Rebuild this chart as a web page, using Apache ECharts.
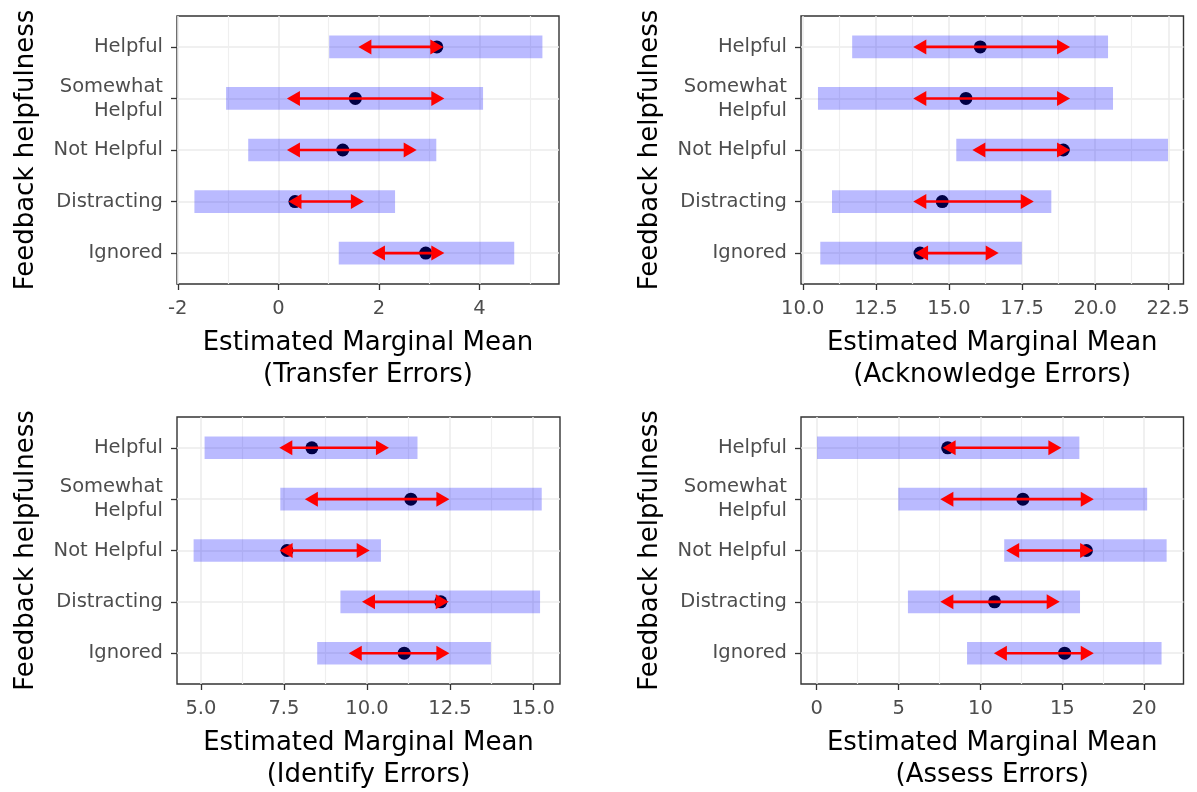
<!DOCTYPE html>
<html>
<head>
<meta charset="utf-8">
<script src="https://cdn.jsdelivr.net/npm/echarts@6/dist/echarts.min.js"></script>
<style>
  html, body { margin: 0; padding: 0; background: #ffffff; }
  #chart { width: 1197px; height: 792px; }
</style>
</head>
<body>
<div id="chart"></div>
<script>
// Feedback categories, top to bottom
const categories = ['Helpful', 'Somewhat\nHelpful', 'Not Helpful', 'Distracting', 'Ignored'];

// Transfer errors
const transferMean = [3.15, 1.53, 1.28, 0.33, 2.93];
const transferLower = [1.01, -1.04, -0.60, -1.67, 1.20];
const transferUpper = [5.25, 4.07, 3.14, 2.32, 4.69];
const transferCmpLow = [1.59, 0.17, 0.17, 0.20, 1.86];
const transferCmpHigh = [3.28, 3.30, 2.75, 1.70, 3.30];
const transferTicks = [-2, 0, 2, 4];

// Acknowledge errors
const acknowledgeMean = [16.07, 15.58, 18.91, 14.77, 14.01];
const acknowledgeLower = [11.69, 10.52, 15.25, 11.00, 10.60];
const acknowledgeUpper = [20.44, 20.61, 22.49, 18.50, 17.49];
const acknowledgeCmpLow = [13.78, 13.78, 15.80, 13.78, 13.84];
const acknowledgeCmpHigh = [19.14, 19.14, 19.14, 17.90, 16.70];
const acknowledgeTicks = [10, 12.5, 15, 17.5, 20, 22.5];

// Identify errors
const identifyMean = [8.34, 11.32, 7.59, 12.22, 11.12];
const identifyLower = [5.11, 7.39, 4.78, 9.20, 8.50];
const identifyUpper = [11.52, 15.26, 10.42, 15.21, 13.73];
const identifyCmpLow = [7.36, 8.13, 7.37, 9.85, 9.45];
const identifyCmpHigh = [10.66, 12.48, 10.08, 12.46, 12.48];
const identifyTicks = [5, 7.5, 10, 12.5, 15];

// Assess errors
const assessMean = [8.00, 12.59, 16.47, 10.86, 15.14];
const assessLower = [0.02, 4.98, 11.45, 5.57, 9.18];
const assessUpper = [16.04, 20.18, 21.37, 16.08, 21.06];
const assessCmpLow = [7.69, 7.55, 11.57, 7.55, 10.82];
const assessCmpHigh = [14.94, 16.92, 16.88, 14.84, 16.92];
const assessTicks = [0, 5, 10, 15, 20];

const FONT = 'DejaVu Sans';
const BAR_THICK = 0.44;      // CI band thickness, in category units
const HEAD_LEN = 13;         // arrow head length, px
const HEAD_HALF = 7.5;       // arrow head half width, px

const panels = [
  { title: '(Transfer Errors)', mean: transferMean, lower: transferLower, upper: transferUpper,
    cmpLow: transferCmpLow, cmpHigh: transferCmpHigh, ticks: transferTicks, decimals: 0,
    min: -2.016, max: 5.58, grid: { left: 177, top: 16, width: 382, height: 268 } },
  { title: '(Acknowledge Errors)', mean: acknowledgeMean, lower: acknowledgeLower, upper: acknowledgeUpper,
    cmpLow: acknowledgeCmpLow, cmpHigh: acknowledgeCmpHigh, ticks: acknowledgeTicks, decimals: 1,
    min: 9.94, max: 23.02, grid: { left: 801, top: 16, width: 382.5, height: 268 } },
  { title: '(Identify Errors)', mean: identifyMean, lower: identifyLower, upper: identifyUpper,
    cmpLow: identifyCmpLow, cmpHigh: identifyCmpHigh, ticks: identifyTicks, decimals: 1,
    min: 4.28, max: 15.81, grid: { left: 177, top: 417, width: 383, height: 267 } },
  { title: '(Assess Errors)', mean: assessMean, lower: assessLower, upper: assessUpper,
    cmpLow: assessCmpLow, cmpHigh: assessCmpHigh, ticks: assessTicks, decimals: 0,
    min: -0.96, max: 22.4, grid: { left: 801, top: 417, width: 382.5, height: 267 } }
];

// midpoints between major breaks, used for the lighter grid lines
function minorBreaks(ticks, min, max) {
  const step = ticks[1] - ticks[0];
  const out = [];
  for (let v = ticks[0] - step / 2; v < max; v += step) {
    if (v > min) out.push(v);
  }
  return out;
}

const grids = [], xAxes = [], yAxes = [], series = [];
const catIdx = categories.map((_, i) => i + 1);

panels.forEach((p, k) => {
  grids.push(Object.assign({ show: true, borderColor: '#333333', borderWidth: 1.4,
    backgroundColor: 'transparent', containLabel: false }, p.grid));

  // main x axis: labels, ticks, major grid lines
  xAxes.push({
    type: 'value', gridIndex: k, position: 'bottom', min: p.min, max: p.max,
    axisLine: { show: false, onZero: false },
    axisTick: { show: true, length: 6, customValues: p.ticks, lineStyle: { color: '#333333', width: 1.3 } },
    axisLabel: { customValues: p.ticks, color: '#4D4D4D', fontFamily: FONT, fontSize: 19.5, margin: 15,
      formatter: v => Number(v).toFixed(p.decimals) },
    splitLine: { show: true, lineStyle: { color: '#EBEBEB', width: 1.5 } },
    name: 'Estimated Marginal Mean\n' + p.title, nameLocation: 'middle', nameGap: 43,
    nameTextStyle: { color: '#000000', fontFamily: FONT, fontSize: 26, lineHeight: 32 }
  });
  // secondary x axis: minor grid lines only
  xAxes.push({
    type: 'value', gridIndex: k, position: 'top', min: p.min, max: p.max,
    axisLine: { show: false, onZero: false },
    axisTick: { show: false, customValues: minorBreaks(p.ticks, p.min, p.max) },
    axisLabel: { show: false },
    splitLine: { show: true, lineStyle: { color: '#EFEFEF', width: 1.2 } }
  });

  yAxes.push({
    type: 'value', gridIndex: k, min: 0.4, max: 5.6, inverse: true, position: 'left',
    axisLine: { show: false, onZero: false },
    axisTick: { show: true, length: 6, customValues: catIdx, lineStyle: { color: '#333333', width: 1.3 } },
    axisLabel: { customValues: catIdx, color: '#4D4D4D', fontFamily: FONT, fontSize: 19.5, lineHeight: 24,
      margin: 14, formatter: v => categories[Math.round(v) - 1] },
    splitLine: { show: true, lineStyle: { color: '#EBEBEB', width: 1.5 } },
    name: 'Feedback helpfulness', nameLocation: 'middle', nameGap: 138, nameRotate: 90,
    nameTextStyle: { color: '#000000', fontFamily: FONT, fontSize: 26 }
  });

  const xi = k * 2;
  // estimated means
  series.push({
    type: 'scatter', xAxisIndex: xi, yAxisIndex: k, z: 2,
    symbol: 'circle', symbolSize: 13, itemStyle: { color: '#000000', opacity: 1 },
    data: p.mean.map((m, i) => [m, i + 1]), silent: true
  });
  // confidence bands
  series.push({
    type: 'custom', xAxisIndex: xi, yAxisIndex: k, z: 3, silent: true,
    data: p.lower.map((lo, i) => [lo, p.upper[i], i + 1]),
    encode: { x: [0, 1], y: 2 },
    renderItem: (params, api) => {
      const a = api.coord([api.value(0), api.value(2)]);
      const b = api.coord([api.value(1), api.value(2)]);
      const h = api.size([0, BAR_THICK])[1];
      return { type: 'rect', shape: { x: a[0], y: a[1] - h / 2, width: b[0] - a[0], height: h },
        style: { fill: 'rgba(0,0,255,0.27)' } };
    }
  });
  // comparison arrows
  series.push({
    type: 'custom', xAxisIndex: xi, yAxisIndex: k, z: 4, silent: true,
    data: p.mean.map((m, i) => [m, p.cmpLow[i], p.cmpHigh[i], i + 1]),
    encode: { x: [0, 1, 2], y: 3 },
    renderItem: (params, api) => {
      const y = api.value(3);
      const lo = api.coord([api.value(1), y]);
      const hi = api.coord([api.value(2), y]);
      const cy = lo[1];
      const red = '#FF0000';
      return { type: 'group', children: [
        { type: 'line', shape: { x1: lo[0] + 4, y1: cy, x2: hi[0] - 4, y2: cy },
          style: { stroke: red, lineWidth: 2.6 } },
        { type: 'polygon', shape: { points: [[lo[0], cy], [lo[0] + HEAD_LEN, cy - HEAD_HALF], [lo[0] + HEAD_LEN, cy + HEAD_HALF]] },
          style: { fill: red } },
        { type: 'polygon', shape: { points: [[hi[0], cy], [hi[0] - HEAD_LEN, cy - HEAD_HALF], [hi[0] - HEAD_LEN, cy + HEAD_HALF]] },
          style: { fill: red } }
      ] };
    }
  });
});

const chart = echarts.init(document.getElementById('chart'), null, { renderer: 'canvas' });
chart.setOption({
  animation: false,
  backgroundColor: '#ffffff',
  grid: grids,
  xAxis: xAxes,
  yAxis: yAxes,
  series: series
});
</script>
</body>
</html>
